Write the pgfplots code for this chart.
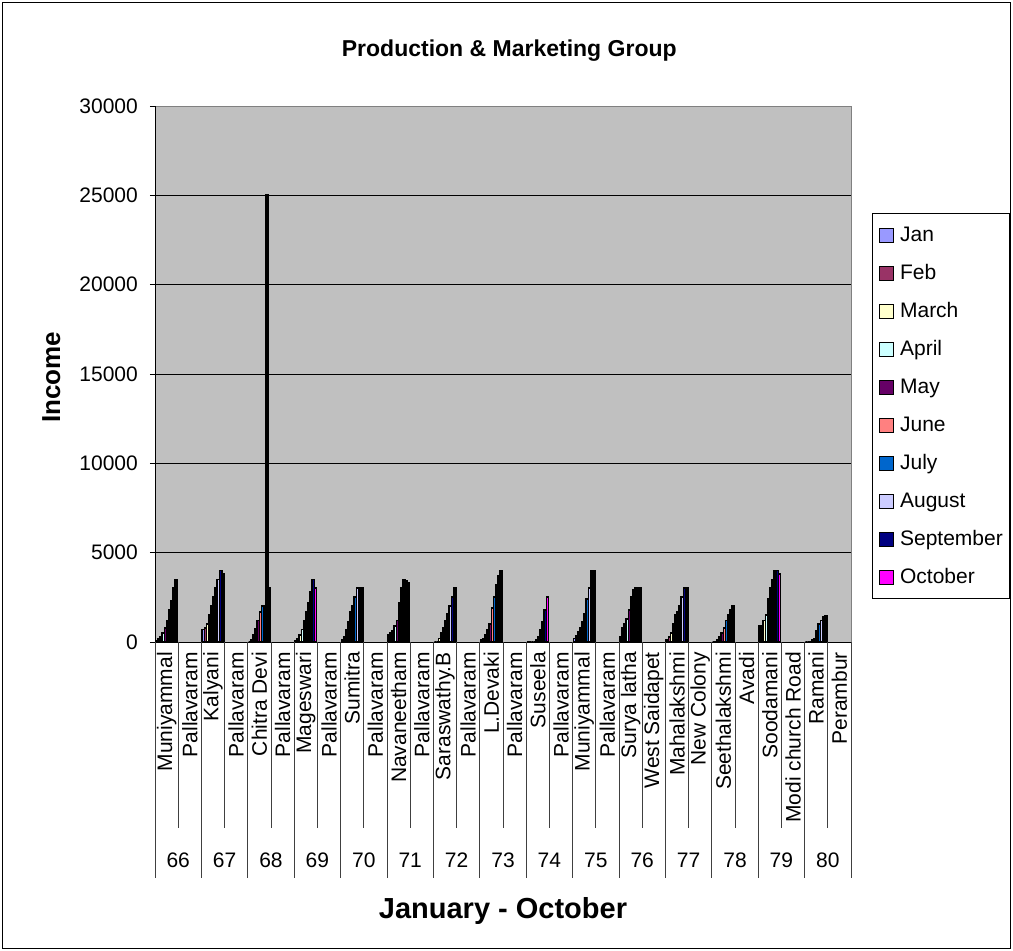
\documentclass[border=0pt]{standalone}
\usepackage{pgfplots}
\pgfplotsset{compat=1.18}
\usepackage{pgfplotstable}
\usepackage{fontspec}
\setmainfont{Liberation Sans}
\newcommand\fs[1]{\fontsize{#1bp}{#1bp}\selectfont}
\definecolor{cJan}{HTML}{9999FF}
\definecolor{cFeb}{HTML}{993366}
\definecolor{cMar}{HTML}{FFFFCC}
\definecolor{cApr}{HTML}{CCFFFF}
\definecolor{cMay}{HTML}{660066}
\definecolor{cJun}{HTML}{FF8080}
\definecolor{cJul}{HTML}{0066CC}
\definecolor{cAug}{HTML}{CCCCFF}
\definecolor{cSep}{HTML}{000080}
\definecolor{cOct}{HTML}{FF00FF}
\definecolor{plotbg}{HTML}{C0C0C0}
\pgfplotstableread{
x  jan feb mar apr may jun jul aug sep oct
0  50  150 300 500 800 1200 1800 2300 3000 3500
2  700 800 1000 1500 2000 2500 3000 3500 4000 3800
4  0   100 400 750 1200 1700 2000 2000 25000 3000
6  50  200 400 700 1200 1700 2200 2800 3500 3000
8  100 300 700 1100 1700 2000 2500 3000 3000 3000
10 400 500 600 900 1200 2200 3000 3500 3400 3300
12 0   0   200 500 800 1200 1600 2000 2500 3000
14 100 200 400 700 1000 1900 2500 3200 3700 4000
16 0   0   0   0   100 300 650 1100 1800 2500
18 200 350 550 800 1100 1600 2400 3000 4000 4000
20 300 800 1000 1300 1800 2500 2900 3000 3000 3000
22 100 300 500 1000 1500 1700 2000 2500 3000 3000
24 0   0   100 300 500 800 1200 1500 1800 2000
26 900 900 1200 1500 2400 3000 3500 4000 4000 3800
28 0   0   0   100 200 600 1000 1200 1400 1450
}\data
\begin{document}
\begin{tikzpicture}
\useasboundingbox (0,0) rectangle (1013bp,951bp);
\draw[black, line width=0.8bp] (2bp,3bp) rectangle (1010bp,949bp);
\begin{axis}[
  at={(155bp,309bp)}, anchor=south west, scale only axis,
  width=696bp, height=536bp,
  xmin=-0.5, xmax=29.5, ymin=0, ymax=30000,
  ybar=0pt, bar width=2.15bp,
  axis background/.style={fill=plotbg},
  axis line style={draw=gray, line width=0.8bp},
  ymajorgrids, major grid style={black, line width=0.8bp},
  ytick={0,5000,...,30000},
  scaled y ticks=false,
  /pgf/number format/1000 sep={},
  /pgf/number format/assume math mode=true,
  tick align=outside, major tick length=5bp, tick pos=left,
  ytick style={black, line width=0.8bp},
  yticklabel style={font=\fs{21}, inner sep=0pt, xshift=-12bp},
  xtick={0,...,29},
  xtick style={draw=none},
  xticklabels={Muniyammal,Pallavaram,Kalyani,Pallavaram,Chitra Devi,Pallavaram,Mageswari,Pallavaram,Sumitra,Pallavaram,Navaneetham,Pallavaram,Saraswathy.B,Pallavaram,L.Devaki,Pallavaram,Suseela,Pallavaram,Muniyammal,Pallavaram,Surya latha,West Saidapet,Mahalakshmi,New Colony,Seethalakshmi,Avadi,Soodamani,Modi church Road,Ramani,Perambur},
  xticklabel style={rotate=90, anchor=east, font=\fs{21}, inner sep=0pt, xshift=-5bp},
  title={Production \& Marketing Group},
  title style={at={(axis description cs:0.509,1.093)}, anchor=center, yshift=0pt, font=\bfseries\fs{23}},
  xlabel={January - October},
  xlabel style={at={(axis description cs:0.5,-0.502)}, anchor=center, font=\bfseries\fs{29}},
  ylabel={Income},
  ylabel style={at={(axis description cs:-0.149,0.494)}, anchor=center, font=\bfseries\fs{26}},
  clip=false,
  legend style={at={(axis description cs:1.030,0.800)}, anchor=north west, draw=black, line width=0.8bp, fill=white, font=\fs{21}, inner xsep=7bp, inner ysep=12bp, row sep=19bp, column sep=6bp, nodes={inner sep=0pt, text height=16bp, text depth=3bp}},
  legend cell align=left,
  legend image code/.code={\draw[#1, draw=black, line width=0.8bp] (0bp,-7bp) rectangle (14bp,7bp);},
]
\addplot[fill=cJan, draw=black, line width=1.8bp] table[x=x,y=jan]{\data};
\addlegendentry{Jan}
\addplot[fill=cFeb, draw=black, line width=1.8bp] table[x=x,y=feb]{\data};
\addlegendentry{Feb}
\addplot[fill=cMar, draw=black, line width=1.8bp] table[x=x,y=mar]{\data};
\addlegendentry{March}
\addplot[fill=cApr, draw=black, line width=1.8bp] table[x=x,y=apr]{\data};
\addlegendentry{April}
\addplot[fill=cMay, draw=black, line width=1.8bp] table[x=x,y=may]{\data};
\addlegendentry{May}
\addplot[fill=cJun, draw=black, line width=1.8bp] table[x=x,y=jun]{\data};
\addlegendentry{June}
\addplot[fill=cJul, draw=black, line width=1.8bp] table[x=x,y=jul]{\data};
\addlegendentry{July}
\addplot[fill=cAug, draw=black, line width=1.8bp] table[x=x,y=aug]{\data};
\addlegendentry{August}
\addplot[fill=cSep, draw=black, line width=1.8bp] table[x=x,y=sep]{\data};
\addlegendentry{September}
\addplot[fill=cOct, draw=black, line width=1.8bp] table[x=x,y=oct]{\data};
\addlegendentry{October}
\draw[black, line width=0.8bp] (rel axis cs:0,0) -- (rel axis cs:0,1);
\draw[black, line width=0.8bp] (rel axis cs:0,0) -- (rel axis cs:1,0);
\pgfplotsinvokeforeach{0,...,14}{
  \draw[black!75, line width=0.8bp] (axis cs:{2*#1-0.5},0) -- ([yshift=-236bp]axis cs:{2*#1-0.5},0);
  \draw[black!75, line width=0.8bp] (axis cs:{2*#1+0.5},0) -- ([yshift=-186bp]axis cs:{2*#1+0.5},0);
}
\draw[black!75, line width=0.8bp] (axis cs:29.5,0) -- ([yshift=-236bp]axis cs:29.5,0);
\pgfplotsinvokeforeach{66,...,80}{
  \node[font=\fs{21}, anchor=center] at (axis cs:{2*(#1-66)+0.5},0) [yshift=-218bp] {#1};
}
\end{axis}
\end{tikzpicture}
\end{document}
